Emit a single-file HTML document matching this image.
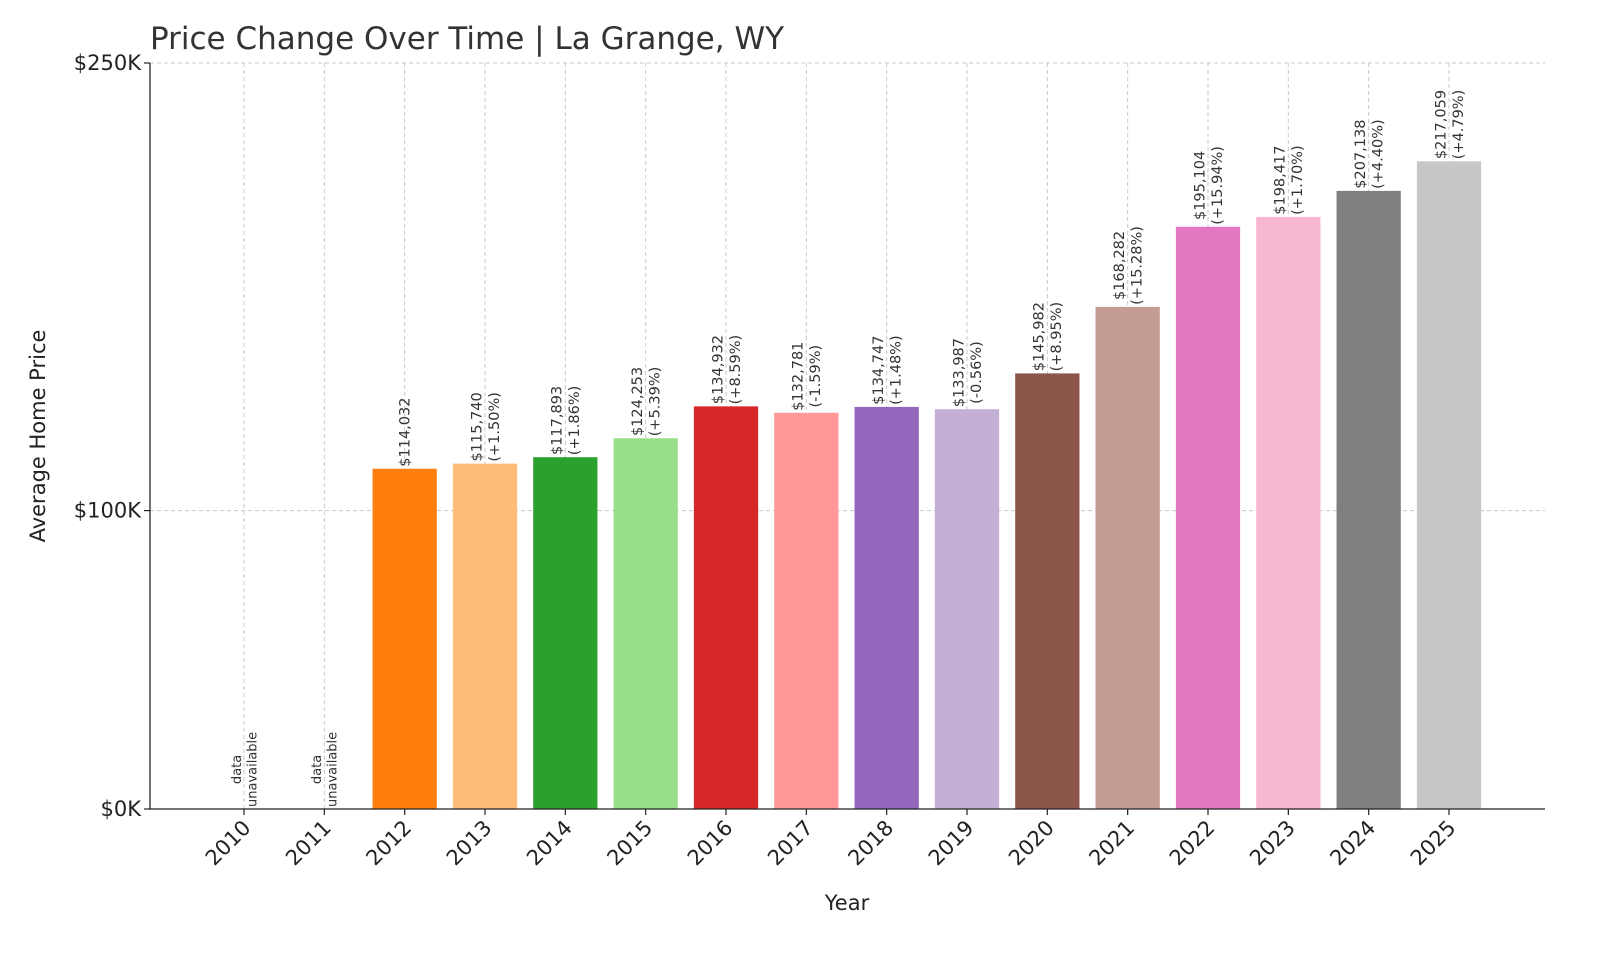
<!DOCTYPE html>
<html><head><meta charset="utf-8"><style>
html,body{margin:0;padding:0;background:#fff;}
svg{display:block;font-family:"DejaVu Sans","Liberation Sans",sans-serif;}
</style></head><body>
<svg id="chart" width="1600" height="960" viewBox="0 0 1600 960">
<rect width="1600" height="960" fill="#fff"/>
<text x="150" y="49" font-size="31" fill="#333">Price Change Over Time | La Grange, WY</text>
<text transform="translate(45,436) rotate(-90)" text-anchor="middle" font-size="21" fill="#222">Average Home Price</text>
<text x="847" y="910" text-anchor="middle" font-size="21" fill="#222">Year</text>
<g id="grid"></g><g id="bars"></g><g id="labels"></g><g id="axes"></g>
</svg>
<script>
const years=[2010,2011,2012,2013,2014,2015,2016,2017,2018,2019,2020,2021,2022,2023,2024,2025];
const prices=[null,null,114032,115740,117893,124253,134932,132781,134747,133987,145982,168282,195104,198417,207138,217059];
const changes=[null,null,null,"+1.50%","+1.86%","+5.39%","+8.59%","-1.59%","+1.48%","-0.56%","+8.95%","+15.28%","+15.94%","+1.70%","+4.40%","+4.79%"];
const yTicks=[0,100000,250000];
const yTickLabels=["$0K","$100K","$250K"];
const colors=["#1f77b4","#aec7e8","#ff7f0e","#ffbb78","#2ca02c","#98df8a","#d62728","#ff9896","#9467bd","#c5b0d5","#8c564b","#c49c94","#e377c2","#f7b6d2","#7f7f7f","#c7c7c7"];
const NS="http://www.w3.org/2000/svg";
const L=150,R=1545,T=63,B=809,yMax=250000;
const step=(1449-244)/15;
const xS=i=>244+i*step;
const yS=v=>B-(v/yMax)*(B-T);
const bw=step*0.8;
function mk(tag,attrs,parent){const e=document.createElementNS(NS,tag);for(const k in attrs)e.setAttribute(k,attrs[k]);document.getElementById(parent).appendChild(e);return e;}
yTicks.forEach((v,i)=>{
 const g=mk("line",{x1:L,x2:R,y1:yS(v),y2:yS(v),stroke:"#c8c8c8","stroke-dasharray":"4,3","stroke-width":1},"grid");
 
 
 const t=mk("line",{x1:L-6,x2:L,y1:yS(v),y2:yS(v),stroke:"#222","stroke-width":1.2},"axes");
 
 
 const lb=mk("text",{x:L-9,y:yS(v)+7,"text-anchor":"end","font-size":21,fill:"#222"},"axes");
 lb.textContent=yTickLabels[i];
 
 
});
years.forEach((yr,i)=>{
 const x=xS(i);
 const g=mk("line",{x1:x,x2:x,y1:T,y2:B,stroke:"#c8c8c8","stroke-dasharray":"4,3","stroke-width":1},"grid");
 
 
 const t=mk("line",{x1:x,x2:x,y1:B,y2:B+6,stroke:"#222","stroke-width":1.2},"axes");
 
 
 const lb=mk("text",{transform:`translate(${x+8},${B+20}) rotate(-45)`,"text-anchor":"end","font-size":21,fill:"#222"},"axes");
 lb.textContent=yr;
 
 
 const p=prices[i];
 let lines,top;
 if(p===null){lines=["data","unavailable"];top=B;}
 else{
  top=yS(p);
  const r=mk("rect",{x:x-bw/2,y:top,width:bw,height:B-top,fill:colors[i]},"bars");
  
  
  lines=["$"+p.toLocaleString("en-US")];
  if(changes[i])lines.push("("+changes[i]+")");
 }
 const fs=p===null?13:14.5;
 const lh=fs*1.2;
 const els=lines.map((s,j)=>{
  const off=(j-(lines.length-1)/2)*lh+fs*0.35;
  const e=mk("text",{"font-size":fs,fill:"#333","text-anchor":"middle"},"labels");
  e.textContent=s;
  
  
  e._off=off;return e;});
 let mx=0;els.forEach(e=>{mx=Math.max(mx,e.getComputedTextLength());});
 els.forEach(e=>{const cy=top-mx/2-2;e.setAttribute("transform",`translate(${x+e._off},${cy}) rotate(-90)`);});
});
const ax=mk("path",{d:`M${L},${T} L${L},${B} L${R},${B}`,fill:"none",stroke:"#222","stroke-width":1.3},"axes");


</script>
</body></html>
